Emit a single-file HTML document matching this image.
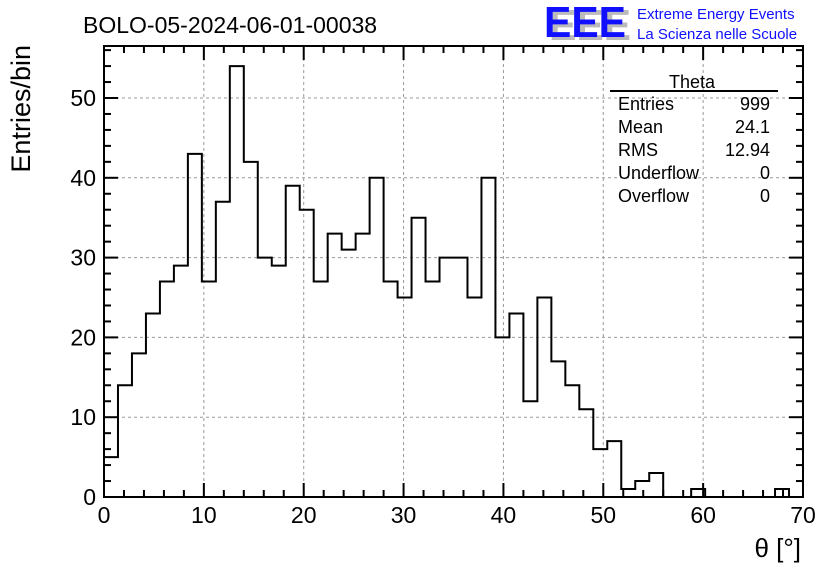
<!DOCTYPE html>
<html><head><meta charset="utf-8"><style>
body{margin:0;background:#fff;}
svg text{font-family:"Liberation Sans",sans-serif;}
</style></head><body>
<svg id="c" width="836" height="572" xmlns="http://www.w3.org/2000/svg">
<text x="83" y="33" font-size="23">BOLO-05-2024-06-01-00038</text>
<g>
<text x="549" y="40" font-size="44" fill="#bbb" font-weight="bold" textLength="82" lengthAdjust="spacingAndGlyphs">EEE</text>
<text x="544" y="37" font-size="44" fill="#1010ff" font-weight="bold" textLength="82" lengthAdjust="spacingAndGlyphs">EEE</text>
<text x="637" y="19" font-size="15" fill="#1010ff">Extreme Energy Events</text>
<text x="637" y="39" font-size="15" fill="#1010ff">La Scienza nelle Scuole</text>
</g>
<g id="grid"></g>
<path id="hist" fill="none" stroke="#000" stroke-width="2"/>
<rect x="104" y="46" width="699" height="451" fill="none" stroke="#000" stroke-width="2"/>
<g id="ticks"></g>
<text x="30" y="45" font-size="27" transform="rotate(-90 30 45)" text-anchor="end">Entries/bin</text>
<text x="801" y="557" font-size="26" text-anchor="end">θ [°]</text>
<g font-size="18">
<text x="692" y="88" text-anchor="middle">Theta</text>
<line x1="610" y1="91" x2="778" y2="91" stroke="#000" stroke-width="2"/>
<text x="618" y="110">Entries</text><text x="770" y="110" text-anchor="end">999</text>
<text x="618" y="133">Mean</text><text x="770" y="133" text-anchor="end">24.1</text>
<text x="618" y="156">RMS</text><text x="770" y="156" text-anchor="end">12.94</text>
<text x="618" y="179">Underflow</text><text x="770" y="179" text-anchor="end">0</text>
<text x="618" y="202">Overflow</text><text x="770" y="202" text-anchor="end">0</text>
</g>
</svg>
<script>
const counts=[5,14,18,23,27,29,43,27,37,54,42,30,29,39,36,27,33,31,33,40,27,25,35,27,30,30,25,40,20,23,12,25,17,14,11,6,7,1,2,3,0,0,1,0,0,0,0,0,1,0];
const binWidth=1.4;
const xTicks=[0,10,20,30,40,50,60,70];
const yTicks=[0,10,20,30,40,50];
const X=v=>104+v*(699/70);
const Y=v=>497-v*7.98;
const NS="http://www.w3.org/2000/svg";
const svg=document.getElementById('c');
const grid=document.getElementById('grid'),ticks=document.getElementById('ticks');
function mk(tag,attrs,parent){const e=document.createElementNS(NS,tag);for(const k in attrs)e.setAttribute(k,attrs[k]);parent.appendChild(e);return e;}
xTicks.forEach(t=>{
 if(t>0&&t<70){const g=mk('line',{x1:X(t),x2:X(t),y1:46,y2:497,stroke:'#999','stroke-dasharray':'3,3'},grid);
 
 }
 const l=mk('text',{x:X(t),y:523,'font-size':23,'text-anchor':'middle'},ticks);l.textContent=t;
 
 
});
yTicks.forEach(t=>{
 if(t>0){const g=mk('line',{x1:104,x2:803,y1:Y(t),y2:Y(t),stroke:'#999','stroke-dasharray':'3,3'},grid);
 
 }
 const l=mk('text',{x:96,y:Y(t)+8,'font-size':23,'text-anchor':'end'},ticks);l.textContent=t;
 
 
});
for(let v=0;v<=70;v+=2){const L=v%10==0?14:7;
 mk('line',{x1:X(v),x2:X(v),y1:497,y2:497-L,stroke:'#000','stroke-width':2},ticks);
 mk('line',{x1:X(v),x2:X(v),y1:46,y2:46+L,stroke:'#000','stroke-width':2},ticks);}
for(let v=0;v<=56;v+=2){const L=v%10==0?14:7;
 mk('line',{x1:104,x2:104+L,y1:Y(v),y2:Y(v),stroke:'#000','stroke-width':2},ticks);
 mk('line',{x1:803,x2:803-L,y1:Y(v),y2:Y(v),stroke:'#000','stroke-width':2},ticks);}
let d='M'+X(0)+','+Y(0);
counts.forEach((c,i)=>{d+=' L'+X(i*binWidth)+','+Y(c)+' L'+X((i+1)*binWidth)+','+Y(c);});
d+=' L'+X(counts.length*binWidth)+','+Y(0);
document.getElementById('hist').setAttribute('d',d);
</script>
</body></html>
